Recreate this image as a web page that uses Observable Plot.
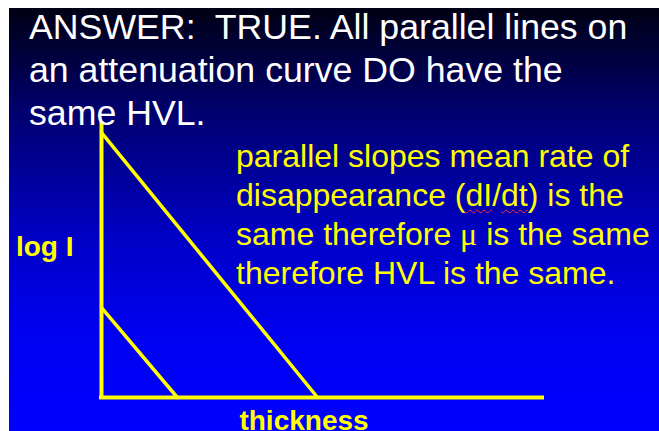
<!DOCTYPE html>
<html>
<head>
<meta charset="utf-8">
<script src="https://cdn.jsdelivr.net/npm/d3@7"></script>
<script src="https://cdn.jsdelivr.net/npm/@observablehq/plot@0.6"></script>
<style>
  html, body { margin: 0; padding: 0; background: #ffffff; }
  #wrap { position: relative; width: 659px; height: 431px; overflow: hidden; }
  #slide { position: absolute; left: 9px; top: 8px; width: 650px; height: 423px;
    background: linear-gradient(to bottom, #000014 0%, #000070 25%, #0000c8 55%, #0000f2 78%, #0000ff 100%); }
  #title { position: absolute; left: 29px; top: 6px; color: #ffffff;
    font-family: "Liberation Sans", Arial, sans-serif; font-size: 35.7px; line-height: 43px; white-space: pre; }
  #note { position: absolute; left: 236px; top: 137px; color: #ffff00;
    font-family: "Liberation Sans", Arial, sans-serif; font-size: 32px; line-height: 39px; white-space: pre; }
  #note .mu { font-family: "Liberation Serif", "DejaVu Serif", serif; }
  #note .sp { text-decoration: underline wavy #ff3030 1px; text-underline-offset: 3px; }
  #chart { position: absolute; left: 0; top: 0; }
</style>
</head>
<body>
<div id="wrap">
  <div id="slide"></div>
  <div id="chart"></div>
  <div id="title">ANSWER:  TRUE. All parallel lines on
an attenuation curve DO have the
same HVL.</div>
  <div id="note">parallel slopes mean rate of
disappearance (<span class="sp">dI</span>/<span class="sp">dt</span>) is the
same therefore <span class="mu">μ</span> is the same
therefore HVL is the same.</div>
</div>
<script>
// Axis extents (arbitrary units)
const thicknessDomain = [0, 10];
const logIDomain = [0, 6];

// Two parallel attenuation lines: start (thickness 0) and end (log I = 0)
const upperLine = [ {thickness: 0, logI: 5.8}, {thickness: 4.9, logI: 0} ];
const lowerLine = [ {thickness: 0, logI: 1.97}, {thickness: 1.72, logI: 0} ];

const xLabel = "thickness";
const yLabel = "log I";
const yellow = "#ffff00";

const plot = Plot.plot({
  width: 659,
  height: 431,
  marginLeft: 101,
  marginRight: 117,
  marginTop: 123,
  marginBottom: 34,
  style: { background: "transparent", overflow: "visible" },
  x: { domain: thicknessDomain, axis: null },
  y: { domain: logIDomain, axis: null },
  marks: [
    Plot.line(upperLine, { x: "thickness", y: "logI", stroke: yellow, strokeWidth: 3.5 }),
    Plot.line(lowerLine, { x: "thickness", y: "logI", stroke: yellow, strokeWidth: 3.5 }),
    Plot.ruleX([thicknessDomain[0]], { y1: logIDomain[0], y2: logIDomain[1], stroke: yellow, strokeWidth: 4, strokeLinecap: "square" }),
    Plot.ruleY([logIDomain[0]], { x1: thicknessDomain[0], x2: thicknessDomain[1], stroke: yellow, strokeWidth: 4, strokeLinecap: "square" }),
    Plot.text([yLabel], { text: d => d, frameAnchor: "left", textAnchor: "end", dx: -28, dy: -13,
      fill: yellow, fontSize: 28, fontWeight: "bold", fontFamily: "Liberation Sans, Arial, sans-serif" }),
    Plot.text([xLabel], { text: d => d, frameAnchor: "bottom", textAnchor: "middle", lineAnchor: "top", dx: -18, dy: 13,
      fill: yellow, fontSize: 28, fontWeight: "bold", fontFamily: "Liberation Sans, Arial, sans-serif" })
  ]
});
document.getElementById("chart").appendChild(plot);
</script>
</body>
</html>
